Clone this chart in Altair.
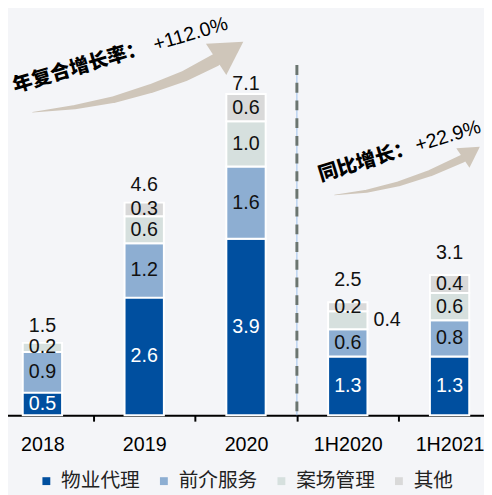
import altair as alt
import pandas as pd

# ---------------- data ----------------
categories = ["2018", "2019", "2020", "1H2020", "1H2021"]
series = ["物业代理", "前介服务", "案场管理", "其他"]
wuye_daili = [0.5, 2.6, 3.9, 1.3, 1.3]
qianjie_fuwu = [0.9, 1.2, 1.6, 0.6, 0.8]
anchang_guanli = [0.2, 0.6, 1.0, 0.4, 0.6]
qita = [None, 0.3, 0.6, 0.2, 0.4]
totals = [1.5, 4.6, 7.1, 2.5, 3.1]
colors = ["#004F9F", "#8DAED2", "#D6E0DE", "#D9D9D9"]

cagr_label = ["年复合增长率：", "+112.0%"]
yoy_label = ["同比增长：", "+22.9%"]

# arrow paths in data units (category index, value) with trail widths
arrow1_i = [-0.097, 0.319, 0.705, 1.065, 1.397, 1.700]
arrow1_v = [6.70, 6.81, 6.98, 7.22, 7.50, 7.85]
arrow1_w = [0.5, 4.3, 6.8, 9.0, 11.0, 13.0]
arrow2_i = [2.870, 3.184, 3.498, 3.812, 4.126]
arrow2_v = [4.870, 4.952, 5.114, 5.354, 5.674]
arrow2_w = [0.5, 3.0, 4.9, 6.5, 8.0]
head_i = [1.840, 4.214]
head_v = [8.06, 5.811]

# ---------------- layout constants ----------------
W, H = 484, 410
PAD_BOTTOM = 77
STEP = 103.5
X0 = -16.75
YMAX = 410 / 46.0
DIVIDER_TOP = 7.74
ARROW_COLOR = "#CFC6BA"
NUM_FONT = "Liberation Sans"
CJK_FONT = "Noto Sans CJK SC"
IDX_MIN = -X0 / STEP - 0.5
IDX_MAX = (W - X0) / STEP - 0.5

# ---------------- tables ----------------
rows = []
for si, (name, vals) in enumerate(zip(series, [wuye_daili, qianjie_fuwu, anchang_guanli, qita])):
    for c, v in zip(categories, vals):
        if v is None:
            continue
        rows.append({"cat": c, "series": name, "value": v, "order": si,
                     "outside": bool(c == "1H2020" and name == "案场管理")})
df = pd.DataFrame(rows)
df_tot = pd.DataFrame({"cat": categories, "total": totals})
df_div = pd.DataFrame({"cat": ["1H2020"], "top": [DIVIDER_TOP], "bottom": [0.0]})

T1_CAT, T1_Y = "2019", 7.98
T2_CAT, T2_Y = "1H2021", 6.04
df_t1 = pd.DataFrame({"cat": [T1_CAT], "y": [T1_Y], "cn": [cagr_label[0]], "num": [cagr_label[1]]})
df_t2 = pd.DataFrame({"cat": [T2_CAT], "y": [T2_Y], "cn": [yoy_label[0]], "num": [yoy_label[1]]})

df_a1 = pd.DataFrame({"i": arrow1_i, "v": arrow1_v, "w": arrow1_w, "k": range(len(arrow1_i))})
df_a2 = pd.DataFrame({"i": arrow2_i, "v": arrow2_v, "w": arrow2_w, "k": range(len(arrow2_i))})

# ---------------- scales ----------------
xscale = alt.Scale(domain=categories, range=[X0, X0 + STEP * len(categories)],
                   paddingInner=0, paddingOuter=0, round=False)
iscale = alt.Scale(domain=[IDX_MIN, IDX_MAX], nice=False, zero=False)
yscale = alt.Scale(domain=[0, YMAX], nice=False, zero=True)
x_axis = alt.Axis(title=None, labelAngle=0, tickBand="extent", labelFont=NUM_FONT,
                  labelFontSize=20, labelColor="#000", domainColor="#000", domainWidth=2,
                  tickColor="#000", tickWidth=2, tickSize=6, labelPadding=14, grid=False)
X = alt.X("cat:N", scale=xscale, axis=x_axis)

base = alt.Chart(df).transform_stack(
    stack="value", as_=["y0", "y1"], groupby=["cat"],
    sort=[alt.SortField("order", order="ascending")]
).transform_calculate(mid="(datum.y0 + datum.y1) / 2")

bars = base.mark_bar(width=40, stroke="white", strokeWidth=2).encode(
    x=X,
    y=alt.Y("y0:Q", scale=yscale, axis=None),
    y2="y1:Q",
    color=alt.Color("series:N", scale=alt.Scale(domain=series, range=colors),
                    legend=alt.Legend(title=None, orient="none", legendX=29, legendY=467,
                                      direction="horizontal", columns=4, symbolType="square",
                                      symbolSize=64, symbolStrokeWidth=0, symbolOpacity=1,
                                      labelFont=CJK_FONT, labelFontSize=20, labelColor="#222",
                                      columnPadding=14.5, labelOffset=5, padding=0)),
)

lab_color = alt.condition("datum.series == '物业代理'", alt.value("white"), alt.value("#111"))
labels_in = base.transform_filter("!datum.outside").mark_text(
    font=NUM_FONT, fontSize=20, baseline="middle").encode(
    x=X, y=alt.Y("mid:Q", scale=yscale, axis=None),
    text=alt.Text("value:Q", format=".1f"), color=lab_color)
labels_out = base.transform_filter("datum.outside").mark_text(
    font=NUM_FONT, fontSize=20, baseline="middle", dx=40).encode(
    x=X, y=alt.Y("mid:Q", scale=yscale, axis=None),
    text=alt.Text("value:Q", format=".1f"), color=alt.value("#111"))

tot = alt.Chart(df_tot)
tot_a = tot.transform_filter("datum.cat != '2020'").mark_text(
    font=NUM_FONT, fontSize=20, baseline="middle", dy=-22, color="#111").encode(
    x=X, y=alt.Y("total:Q", scale=yscale, axis=None), text=alt.Text("total:Q", format=".1f"))
tot_b = tot.transform_filter("datum.cat == '2020'").mark_text(
    font=NUM_FONT, fontSize=20, baseline="middle", dy=-10, color="#111").encode(
    x=X, y=alt.Y("total:Q", scale=yscale, axis=None), text=alt.Text("total:Q", format=".1f"))

div_blue = alt.Chart(df_div).mark_rule(color="#9CC2EE", strokeWidth=1).encode(
    x=alt.X("cat:N", scale=xscale, axis=x_axis, bandPosition=0),
    y=alt.Y("top:Q", scale=yscale, axis=None), y2="bottom:Q")
div_dash = alt.Chart(df_div).mark_rule(color="#6B7570", strokeWidth=3, strokeDash=[10, 8]).encode(
    x=alt.X("cat:N", scale=xscale, axis=x_axis, bandPosition=0),
    y=alt.Y("top:Q", scale=yscale, axis=None), y2="bottom:Q")


def ann(dfa, angle, dx, gap):
    cn = alt.Chart(dfa).mark_text(font=CJK_FONT, fontWeight=900, fontSize=20, align="right",
                                  baseline="alphabetic", angle=angle, dx=dx, color="#000").encode(
        x=X, y=alt.Y("y:Q", scale=yscale, axis=None), text="cn:N")
    num = alt.Chart(dfa).mark_text(font=NUM_FONT, fontSize=20, align="left",
                                   baseline="alphabetic", angle=angle, dx=dx + gap, color="#000").encode(
        x=X, y=alt.Y("y:Q", scale=yscale, axis=None), text="num:N")
    return cn + num


main = alt.layer(
    bars, div_blue, div_dash, labels_in, labels_out, tot_a, tot_b,
    ann(df_t1, 343.5, 3, 9), ann(df_t2, 343, -37, 3)
)

XI = alt.X("i:Q", scale=iscale, axis=None)
trail1 = alt.Chart(df_a1).mark_trail(color=ARROW_COLOR, opacity=1).encode(
    x=XI, y=alt.Y("v:Q", scale=yscale, axis=None),
    size=alt.Size("w:Q", scale=None, legend=None), order="k:Q")
trail2 = alt.Chart(df_a2).mark_trail(color=ARROW_COLOR, opacity=1).encode(
    x=XI, y=alt.Y("v:Q", scale=yscale, axis=None),
    size=alt.Size("w:Q", scale=None, legend=None), order="k:Q")
head1 = alt.Chart(pd.DataFrame({"i": [head_i[0]], "v": [head_v[0]]})).mark_point(
    shape="triangle-right", size=1444, angle=327, filled=True, color=ARROW_COLOR,
    opacity=1, strokeWidth=0).encode(x=XI, y=alt.Y("v:Q", scale=yscale, axis=None))
head2 = alt.Chart(pd.DataFrame({"i": [head_i[1]], "v": [head_v[1]]})).mark_point(
    shape="triangle-right", size=576, angle=326, filled=True, color=ARROW_COLOR,
    opacity=1, strokeWidth=0).encode(x=XI, y=alt.Y("v:Q", scale=yscale, axis=None))

arrows = alt.layer(trail1, trail2, head1, head2)

chart = alt.layer(arrows, main).resolve_scale(x="independent").properties(
    width=W, height=H,
    autosize=alt.AutoSizeParams(type="none"),
    padding={"left": 0, "top": 0, "right": 0, "bottom": PAD_BOTTOM},
    background="#F4F5F8",
).configure_view(stroke=None)

chart.save("out.html", embed_options={"renderer": "svg", "actions": False})
